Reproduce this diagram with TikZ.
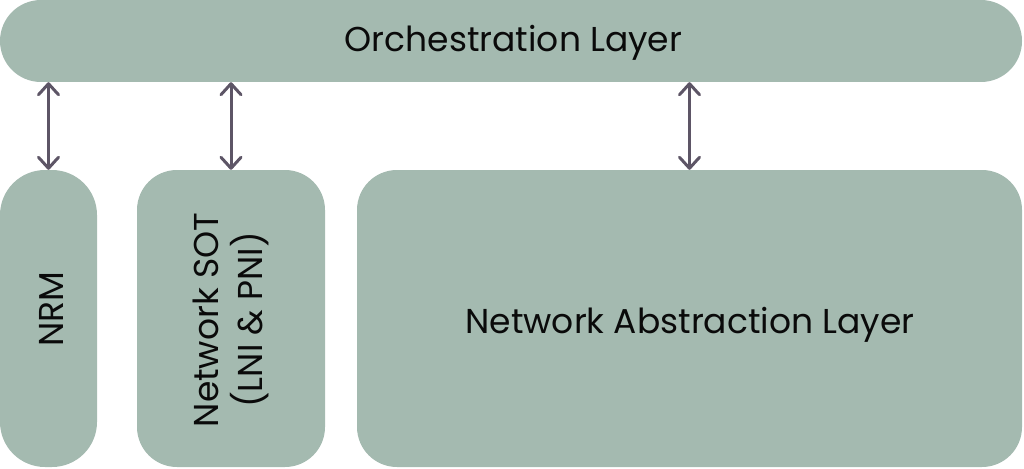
\documentclass[tikz,border=0pt]{standalone}
\usepackage{fontspec}
\setmainfont{Poppins}
\usetikzlibrary{arrows.meta}
\definecolor{boxfill}{HTML}{A4BAB0}
\definecolor{arrcol}{HTML}{5D5566}
\definecolor{txt}{HTML}{0A0A0A}
\begin{document}
\begin{tikzpicture}[x=1pt,y=-1pt,
  box/.style={fill=boxfill, draw=none, inner sep=0pt},
  lbl/.style={inner sep=0pt, text=txt, align=center,
    font=\fontsize{34.5}{44}\selectfont},
  arr/.style={draw=arrcol, line width=3pt, line cap=round,
    {Straight Barb[length=11pt,width=20pt,line width=3pt,round]}-{Straight Barb[length=11pt,width=20pt,line width=3pt,round]}}]
\useasboundingbox (0,0) rectangle (1024,468);
\node[box, minimum width=1022pt, minimum height=82pt, rounded corners=41pt] (orch) at (511,41) {};
\node[box, rotate=90, minimum width=297pt, minimum height=97pt, rounded corners=45pt] (nrm) at (48.5,318.5) {};
\node[box, rotate=90, minimum width=297pt, minimum height=188pt, rounded corners=40pt] (sot) at (231,318.5) {};
\node[box, minimum width=665pt, minimum height=297pt, rounded corners=40pt] (nal) at (689.5,318.5) {};
\node[lbl, anchor=base] (orchtxt) at (513.5,52) {Orchestration Layer};
\node[lbl, anchor=base] (naltxt) at (690,333) {Network Abstraction Layer};
\node[lbl, anchor=base, rotate=90] (nrmtxt) at (63,309.5) {NRM};
\node[lbl, rotate=90] (sottxt) at (231,320) {Network SOT\\(LNI \& PNI)};
\draw[arr] (orch.south -| nrm.east) -- (nrm.east);
\draw[arr] (orch.south -| sot.east) -- (sot.east);
\draw[arr] (orch.south -| nal.north) -- (nal.north);
\end{tikzpicture}
\end{document}
